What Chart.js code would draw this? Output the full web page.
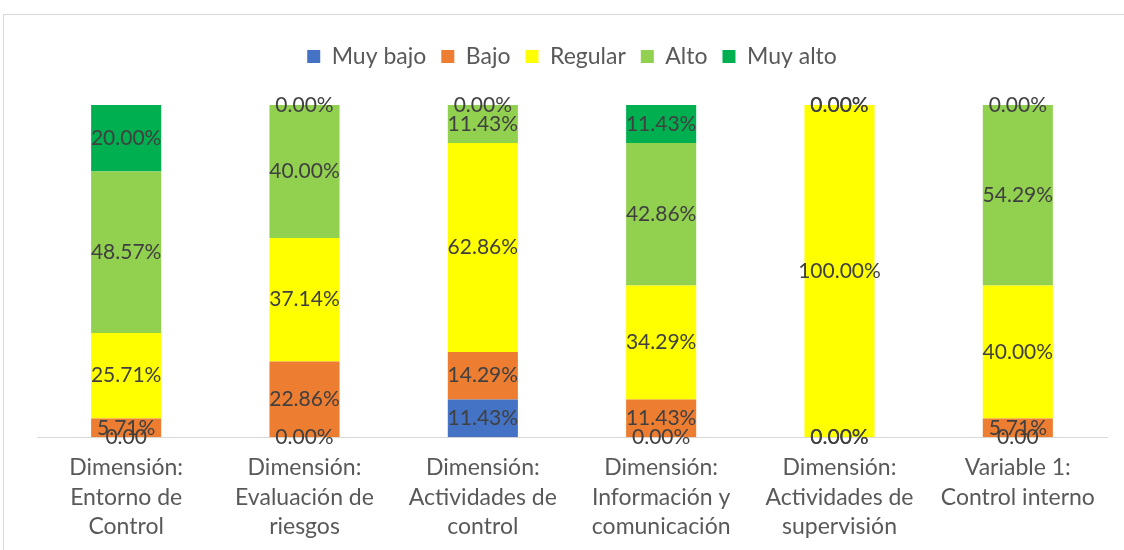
<!DOCTYPE html>
<html lang="es">
<head>
  <meta charset="UTF-8">
  <title>Control interno</title>
  <style>
    html, body { margin: 0; padding: 0; background: #fff; overflow: hidden; }
    .marco {
      position: absolute; left: 3px; top: 14px;
      width: 1150px; height: 560px;
      border: 1px solid #d9d9d9;
    }
    .chart-box { position: absolute; left: 0; top: 0; width: 1124px; height: 550px; }
  </style>
  <script src="https://cdn.jsdelivr.net/npm/chart.js"></script>
</head>
<body>
  <div class="marco"></div>
  <div class="chart-box">
    <canvas id="grafica"></canvas>
  </div>

  <script>
    const categorias = [
      ['Dimensión:', 'Entorno de', 'Control'],
      ['Dimensión:', 'Evaluación de', 'riesgos'],
      ['Dimensión:', 'Actividades de', 'control'],
      ['Dimensión:', 'Información y', 'comunicación'],
      ['Dimensión:', 'Actividades de', 'supervisión'],
      ['Variable 1:', 'Control interno']
    ];
    const muyBajo = [0, 0, 11.43, 0, 0, 0];
    const bajo = [5.71, 22.86, 14.29, 11.43, 0, 5.71];
    const regular = [25.71, 37.14, 62.86, 34.29, 100, 40];
    const alto = [48.57, 40, 11.43, 42.86, 0, 54.29];
    const muyAlto = [20, 0, 0, 11.43, 0, 0];
    // etiquetas de "Muy bajo" tal como salen en la figura
    const etiquetasMuyBajo = ['0.00', '0.00%', '11.43%', '0.00%', '0.00%', '0.00'];

    const fuente = 'Lato, "Noto Sans", sans-serif';

    // dibuja el valor en el centro de cada segmento
    const etiquetasPlugin = {
      id: 'etiquetas',
      afterDatasetsDraw(chart) {
        const ctx = chart.ctx;
        ctx.save();
        ctx.font = '21px ' + fuente;
        ctx.fillStyle = '#404040';
        ctx.textAlign = 'center';
        ctx.textBaseline = 'middle';
        chart.data.datasets.forEach((ds, i) => {
          const meta = chart.getDatasetMeta(i);
          meta.data.forEach((bar, j) => {
            const p = bar.getProps(['x', 'y', 'base'], true);
            let txt = ds.data[j].toFixed(2) + '%';
            if (i === 0) txt = etiquetasMuyBajo[j];
            ctx.fillText(txt, p.x, (p.y + p.base) / 2);
          });
        });
        ctx.restore();
      }
    };

    const espacioLeyenda = {
      id: 'espacioLeyenda',
      beforeInit(chart) {
        const fit = chart.legend.fit;
        chart.legend.fit = function () {
          fit.bind(chart.legend)();
          this.height += 27;
        };
      }
    };

    new Chart(document.getElementById('grafica'), {
      type: 'bar',
      data: {
        labels: categorias,
        datasets: [
          { label: 'Muy bajo', data: muyBajo, backgroundColor: '#4472C4' },
          { label: 'Bajo', data: bajo, backgroundColor: '#ED7D31' },
          { label: 'Regular', data: regular, backgroundColor: '#FFFF00' },
          { label: 'Alto', data: alto, backgroundColor: '#92D050' },
          { label: 'Muy alto', data: muyAlto, backgroundColor: '#00B050' }
        ]
      },
      options: {
        responsive: true,
        maintainAspectRatio: false,
        animation: false,
        layout: { padding: { left: 37, right: 17, top: 30, bottom: 1 } },
        datasets: { bar: { barPercentage: 1, categoryPercentage: 0.393 } },
        plugins: {
          legend: {
            position: 'top',
            labels: {
              color: '#595959',
              font: { family: fuente, size: 23 },
              boxWidth: 13,
              boxHeight: 13,
              padding: 15
            }
          },
          tooltip: { enabled: false }
        },
        scales: {
          x: {
            stacked: true,
            grid: { display: false },
            border: { color: '#d9d9d9', width: 1 },
            ticks: {
              color: '#595959',
              font: { family: fuente, size: 23, lineHeight: 1.27 },
              padding: 8,
              maxRotation: 0,
              autoSkip: false
            }
          },
          y: {
            stacked: true,
            min: 0,
            max: 100,
            display: false
          }
        }
      },
      plugins: [etiquetasPlugin, espacioLeyenda]
    });
  </script>
</body>
</html>
